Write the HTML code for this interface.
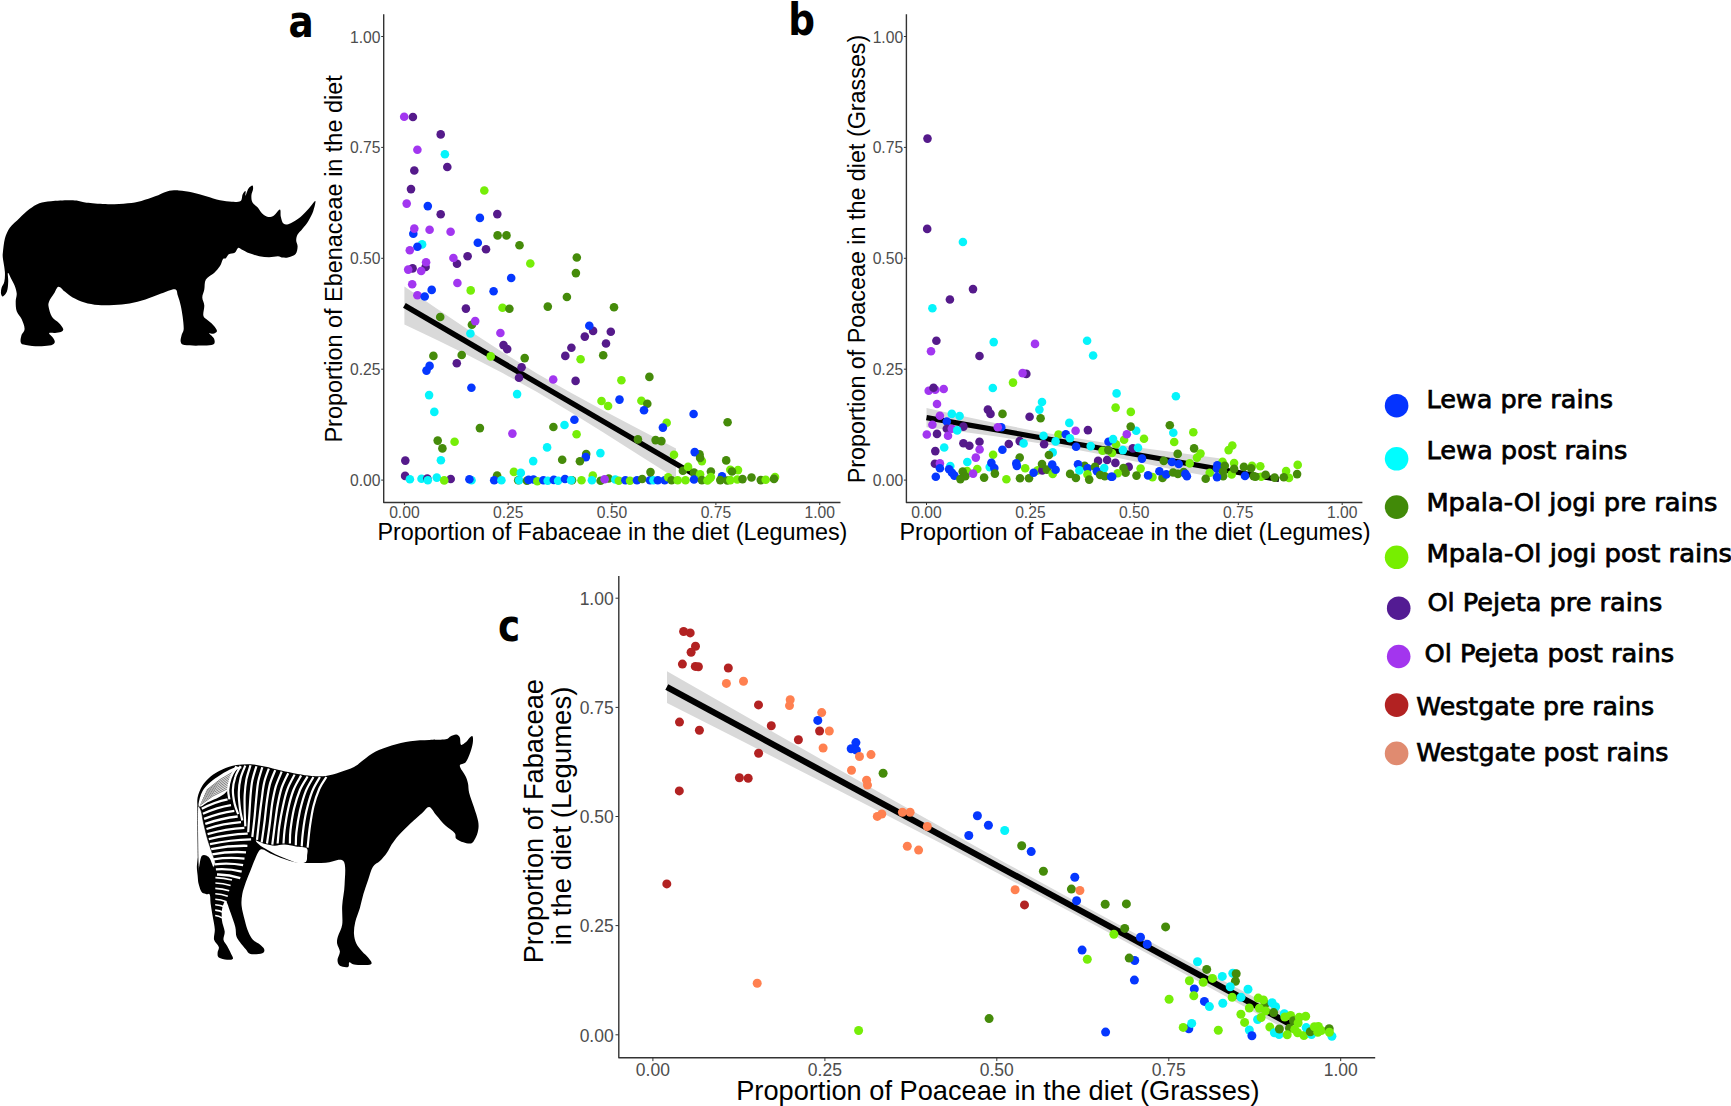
<!DOCTYPE html><html><head><meta charset="utf-8"><title>Figure</title>
<style>html,body{margin:0;padding:0;background:#fff}svg{display:block}text{font-family:"Liberation Sans",sans-serif}.tk{fill:#4d4d4d}.lg{font-family:"DejaVu Sans","Liberation Sans",sans-serif;fill:#000;stroke:#000;stroke-width:0.75px}.pl{font-family:"DejaVu Sans","Liberation Sans",sans-serif;font-weight:bold;fill:#000}</style></head><body>
<svg width="1731" height="1106" viewBox="0 0 1731 1106">
<rect width="1731" height="1106" fill="#fff"/>
<polygon points="404.4,286.4 437.0,308.8 470.0,331.1 503.0,352.5 537.0,373.4 570.0,392.3 603.0,410.2 640.0,429.8 676.0,448.6 676.0,478.5 640.0,455.8 603.0,432.2 570.0,411.7 537.0,392.1 503.0,373.3 470.0,356.3 437.0,340.0 404.4,324.4" fill="#d9d9d9"/>
<line x1="404.4" y1="305.4" x2="696.0" y2="475.5" stroke="#000" stroke-width="5.4"/>
<circle cx="404.2" cy="116.8" r="4.3" fill="#A236F0"/>
<circle cx="412.9" cy="117.0" r="4.3" fill="#551A8B"/>
<circle cx="440.7" cy="134.4" r="4.3" fill="#551A8B"/>
<circle cx="417.4" cy="149.8" r="4.3" fill="#A236F0"/>
<circle cx="444.9" cy="154.2" r="4.3" fill="#06F4FB"/>
<circle cx="447.3" cy="167.0" r="4.3" fill="#551A8B"/>
<circle cx="414.3" cy="170.5" r="4.3" fill="#551A8B"/>
<circle cx="411.0" cy="189.1" r="4.3" fill="#551A8B"/>
<circle cx="484.3" cy="190.5" r="4.3" fill="#76EE08"/>
<circle cx="406.7" cy="203.6" r="4.3" fill="#A236F0"/>
<circle cx="427.8" cy="206.1" r="4.3" fill="#0537FF"/>
<circle cx="440.7" cy="214.2" r="4.3" fill="#551A8B"/>
<circle cx="497.3" cy="214.1" r="4.3" fill="#551A8B"/>
<circle cx="479.9" cy="217.9" r="4.3" fill="#0537FF"/>
<circle cx="413.3" cy="233.7" r="4.3" fill="#0537FF"/>
<circle cx="414.3" cy="228.6" r="4.3" fill="#A236F0"/>
<circle cx="429.6" cy="229.7" r="4.3" fill="#A236F0"/>
<circle cx="450.6" cy="231.8" r="4.3" fill="#A236F0"/>
<circle cx="497.6" cy="235.4" r="4.3" fill="#458B0A"/>
<circle cx="506.5" cy="235.4" r="4.3" fill="#458B0A"/>
<circle cx="422.1" cy="244.4" r="4.3" fill="#06F4FB"/>
<circle cx="417.4" cy="246.7" r="4.3" fill="#0537FF"/>
<circle cx="409.8" cy="250.3" r="4.3" fill="#A236F0"/>
<circle cx="477.8" cy="242.7" r="4.3" fill="#0537FF"/>
<circle cx="486.0" cy="249.3" r="4.3" fill="#551A8B"/>
<circle cx="519.5" cy="245.3" r="4.3" fill="#458B0A"/>
<circle cx="467.6" cy="256.2" r="4.3" fill="#551A8B"/>
<circle cx="457.0" cy="263.7" r="4.3" fill="#551A8B"/>
<circle cx="453.4" cy="258.0" r="4.3" fill="#A236F0"/>
<circle cx="576.8" cy="257.5" r="4.3" fill="#458B0A"/>
<circle cx="530.3" cy="263.5" r="4.3" fill="#76EE08"/>
<circle cx="575.9" cy="273.1" r="4.3" fill="#458B0A"/>
<circle cx="511.2" cy="278.0" r="4.3" fill="#0537FF"/>
<circle cx="412.6" cy="268.4" r="4.3" fill="#551A8B"/>
<circle cx="408.2" cy="269.6" r="4.3" fill="#A236F0"/>
<circle cx="425.6" cy="267.0" r="4.3" fill="#551A8B"/>
<circle cx="426.1" cy="262.3" r="4.3" fill="#A236F0"/>
<circle cx="421.2" cy="271.0" r="4.3" fill="#A236F0"/>
<circle cx="412.2" cy="284.3" r="4.3" fill="#A236F0"/>
<circle cx="457.4" cy="283.0" r="4.3" fill="#A236F0"/>
<circle cx="470.7" cy="290.4" r="4.3" fill="#76EE08"/>
<circle cx="431.7" cy="289.9" r="4.3" fill="#0537FF"/>
<circle cx="493.6" cy="291.3" r="4.3" fill="#0537FF"/>
<circle cx="417.4" cy="295.3" r="4.3" fill="#A236F0"/>
<circle cx="424.7" cy="296.5" r="4.3" fill="#0537FF"/>
<circle cx="566.9" cy="297.0" r="4.3" fill="#458B0A"/>
<circle cx="547.8" cy="306.6" r="4.3" fill="#458B0A"/>
<circle cx="614.0" cy="307.3" r="4.3" fill="#458B0A"/>
<circle cx="502.5" cy="307.8" r="4.3" fill="#76EE08"/>
<circle cx="509.4" cy="308.8" r="4.3" fill="#458B0A"/>
<circle cx="465.9" cy="308.6" r="4.3" fill="#551A8B"/>
<circle cx="440.2" cy="317.0" r="4.3" fill="#458B0A"/>
<circle cx="471.9" cy="324.8" r="4.3" fill="#458B0A"/>
<circle cx="475.2" cy="321.1" r="4.3" fill="#A236F0"/>
<circle cx="470.4" cy="333.5" r="4.3" fill="#06F4FB"/>
<circle cx="500.4" cy="333.0" r="4.3" fill="#A236F0"/>
<circle cx="593.1" cy="330.9" r="4.3" fill="#551A8B"/>
<circle cx="589.3" cy="325.7" r="4.3" fill="#0537FF"/>
<circle cx="610.8" cy="331.7" r="4.3" fill="#551A8B"/>
<circle cx="584.8" cy="336.6" r="4.3" fill="#551A8B"/>
<circle cx="606.0" cy="343.5" r="4.3" fill="#551A8B"/>
<circle cx="503.5" cy="345.1" r="4.3" fill="#551A8B"/>
<circle cx="507.2" cy="349.1" r="4.3" fill="#551A8B"/>
<circle cx="571.4" cy="347.7" r="4.3" fill="#551A8B"/>
<circle cx="565.3" cy="355.9" r="4.3" fill="#551A8B"/>
<circle cx="580.6" cy="359.3" r="4.3" fill="#76EE08"/>
<circle cx="603.2" cy="355.3" r="4.3" fill="#458B0A"/>
<circle cx="433.4" cy="355.9" r="4.3" fill="#458B0A"/>
<circle cx="461.7" cy="355.0" r="4.3" fill="#458B0A"/>
<circle cx="490.7" cy="356.4" r="4.3" fill="#76EE08"/>
<circle cx="524.7" cy="358.1" r="4.3" fill="#458B0A"/>
<circle cx="456.8" cy="363.2" r="4.3" fill="#551A8B"/>
<circle cx="429.6" cy="365.9" r="4.3" fill="#0537FF"/>
<circle cx="426.5" cy="370.6" r="4.3" fill="#0537FF"/>
<circle cx="521.6" cy="367.3" r="4.3" fill="#551A8B"/>
<circle cx="519.0" cy="377.7" r="4.3" fill="#551A8B"/>
<circle cx="553.2" cy="379.5" r="4.3" fill="#A236F0"/>
<circle cx="575.6" cy="380.9" r="4.3" fill="#551A8B"/>
<circle cx="621.4" cy="380.3" r="4.3" fill="#76EE08"/>
<circle cx="649.4" cy="376.9" r="4.3" fill="#458B0A"/>
<circle cx="471.4" cy="387.8" r="4.3" fill="#0537FF"/>
<circle cx="429.1" cy="395.1" r="4.3" fill="#06F4FB"/>
<circle cx="517.1" cy="394.1" r="4.3" fill="#06F4FB"/>
<circle cx="601.5" cy="401.0" r="4.3" fill="#76EE08"/>
<circle cx="608.1" cy="406.0" r="4.3" fill="#76EE08"/>
<circle cx="619.5" cy="399.6" r="4.3" fill="#0537FF"/>
<circle cx="641.4" cy="400.7" r="4.3" fill="#76EE08"/>
<circle cx="647.3" cy="403.8" r="4.3" fill="#458B0A"/>
<circle cx="644.0" cy="410.2" r="4.3" fill="#0537FF"/>
<circle cx="434.3" cy="411.9" r="4.3" fill="#06F4FB"/>
<circle cx="574.4" cy="419.8" r="4.3" fill="#0537FF"/>
<circle cx="564.5" cy="425.0" r="4.3" fill="#06F4FB"/>
<circle cx="553.4" cy="427.0" r="4.3" fill="#458B0A"/>
<circle cx="479.9" cy="428.1" r="4.3" fill="#458B0A"/>
<circle cx="512.4" cy="433.6" r="4.3" fill="#A236F0"/>
<circle cx="576.6" cy="434.2" r="4.3" fill="#76EE08"/>
<circle cx="666.7" cy="422.7" r="4.3" fill="#76EE08"/>
<circle cx="662.9" cy="427.6" r="4.3" fill="#0537FF"/>
<circle cx="637.9" cy="439.4" r="4.3" fill="#458B0A"/>
<circle cx="655.6" cy="440.1" r="4.3" fill="#458B0A"/>
<circle cx="661.4" cy="441.1" r="4.3" fill="#458B0A"/>
<circle cx="437.7" cy="440.6" r="4.3" fill="#458B0A"/>
<circle cx="454.6" cy="441.8" r="4.3" fill="#76EE08"/>
<circle cx="442.4" cy="448.4" r="4.3" fill="#458B0A"/>
<circle cx="547.1" cy="447.4" r="4.3" fill="#06F4FB"/>
<circle cx="600.4" cy="453.1" r="4.3" fill="#06F4FB"/>
<circle cx="586.2" cy="454.1" r="4.3" fill="#458B0A"/>
<circle cx="585.8" cy="457.1" r="4.3" fill="#0537FF"/>
<circle cx="579.9" cy="461.2" r="4.3" fill="#458B0A"/>
<circle cx="562.2" cy="459.7" r="4.3" fill="#458B0A"/>
<circle cx="533.2" cy="461.1" r="4.3" fill="#06F4FB"/>
<circle cx="440.9" cy="460.2" r="4.3" fill="#06F4FB"/>
<circle cx="405.3" cy="460.6" r="4.3" fill="#551A8B"/>
<circle cx="674.0" cy="454.8" r="4.3" fill="#76EE08"/>
<circle cx="405.1" cy="475.9" r="4.3" fill="#551A8B"/>
<circle cx="409.9" cy="479.3" r="4.3" fill="#06F4FB"/>
<circle cx="421.5" cy="478.8" r="4.3" fill="#06F4FB"/>
<circle cx="427.3" cy="478.5" r="4.3" fill="#551A8B"/>
<circle cx="427.8" cy="480.2" r="4.3" fill="#06F4FB"/>
<circle cx="436.8" cy="477.6" r="4.3" fill="#06F4FB"/>
<circle cx="450.7" cy="479.0" r="4.3" fill="#551A8B"/>
<circle cx="444.2" cy="480.4" r="4.3" fill="#76EE08"/>
<circle cx="471.5" cy="480.2" r="4.3" fill="#06F4FB"/>
<circle cx="469.4" cy="479.2" r="4.3" fill="#0537FF"/>
<circle cx="497.1" cy="475.5" r="4.3" fill="#458B0A"/>
<circle cx="494.2" cy="480.2" r="4.3" fill="#0537FF"/>
<circle cx="501.4" cy="480.2" r="4.3" fill="#06F4FB"/>
<circle cx="513.9" cy="471.9" r="4.3" fill="#76EE08"/>
<circle cx="520.8" cy="472.9" r="4.3" fill="#06F4FB"/>
<circle cx="518.2" cy="480.2" r="4.3" fill="#458B0A"/>
<circle cx="519.1" cy="480.2" r="4.3" fill="#06F4FB"/>
<circle cx="526.9" cy="480.7" r="4.3" fill="#458B0A"/>
<circle cx="528.6" cy="479.9" r="4.3" fill="#0537FF"/>
<circle cx="533.5" cy="479.5" r="4.3" fill="#0537FF"/>
<circle cx="537.3" cy="481.2" r="4.3" fill="#76EE08"/>
<circle cx="543.4" cy="480.2" r="4.3" fill="#0537FF"/>
<circle cx="547.7" cy="480.7" r="4.3" fill="#06F4FB"/>
<circle cx="553.8" cy="479.9" r="4.3" fill="#0537FF"/>
<circle cx="558.1" cy="480.7" r="4.3" fill="#06F4FB"/>
<circle cx="565.0" cy="479.0" r="4.3" fill="#0537FF"/>
<circle cx="572.0" cy="480.2" r="4.3" fill="#458B0A"/>
<circle cx="571.1" cy="480.2" r="4.3" fill="#06F4FB"/>
<circle cx="581.5" cy="480.2" r="4.3" fill="#76EE08"/>
<circle cx="592.8" cy="475.5" r="4.3" fill="#76EE08"/>
<circle cx="591.9" cy="480.2" r="4.3" fill="#06F4FB"/>
<circle cx="600.6" cy="480.7" r="4.3" fill="#458B0A"/>
<circle cx="608.7" cy="478.5" r="4.3" fill="#458B0A"/>
<circle cx="604.6" cy="479.3" r="4.3" fill="#A236F0"/>
<circle cx="615.3" cy="479.5" r="4.3" fill="#06F4FB"/>
<circle cx="618.8" cy="480.7" r="4.3" fill="#76EE08"/>
<circle cx="625.4" cy="480.2" r="4.3" fill="#0537FF"/>
<circle cx="630.0" cy="480.7" r="4.3" fill="#76EE08"/>
<circle cx="637.0" cy="480.2" r="4.3" fill="#0537FF"/>
<circle cx="642.2" cy="479.0" r="4.3" fill="#458B0A"/>
<circle cx="650.0" cy="480.2" r="4.3" fill="#0537FF"/>
<circle cx="653.4" cy="480.2" r="4.3" fill="#06F4FB"/>
<circle cx="657.8" cy="480.2" r="4.3" fill="#0537FF"/>
<circle cx="664.7" cy="480.2" r="4.3" fill="#0537FF"/>
<circle cx="650.5" cy="472.1" r="4.3" fill="#458B0A"/>
<circle cx="668.2" cy="477.3" r="4.3" fill="#76EE08"/>
<circle cx="671.6" cy="480.2" r="4.3" fill="#458B0A"/>
<circle cx="677.7" cy="480.2" r="4.3" fill="#76EE08"/>
<circle cx="685.5" cy="480.2" r="4.3" fill="#76EE08"/>
<circle cx="682.9" cy="470.8" r="4.3" fill="#458B0A"/>
<circle cx="688.1" cy="466.9" r="4.3" fill="#76EE08"/>
<circle cx="693.6" cy="414.0" r="4.3" fill="#0537FF"/>
<circle cx="727.6" cy="422.3" r="4.3" fill="#458B0A"/>
<circle cx="699.5" cy="454.2" r="4.3" fill="#458B0A"/>
<circle cx="694.7" cy="452.1" r="4.3" fill="#0537FF"/>
<circle cx="701.9" cy="461.1" r="4.3" fill="#76EE08"/>
<circle cx="700.1" cy="457.9" r="4.3" fill="#458B0A"/>
<circle cx="726.2" cy="460.4" r="4.3" fill="#458B0A"/>
<circle cx="694.0" cy="472.6" r="4.3" fill="#458B0A"/>
<circle cx="700.1" cy="474.3" r="4.3" fill="#76EE08"/>
<circle cx="710.9" cy="471.5" r="4.3" fill="#458B0A"/>
<circle cx="710.9" cy="477.1" r="4.3" fill="#76EE08"/>
<circle cx="730.3" cy="469.8" r="4.3" fill="#76EE08"/>
<circle cx="738.0" cy="470.1" r="4.3" fill="#76EE08"/>
<circle cx="732.0" cy="471.5" r="4.3" fill="#458B0A"/>
<circle cx="722.0" cy="476.4" r="4.3" fill="#0537FF"/>
<circle cx="694.0" cy="479.5" r="4.3" fill="#0537FF"/>
<circle cx="701.9" cy="480.1" r="4.3" fill="#458B0A"/>
<circle cx="707.5" cy="480.5" r="4.3" fill="#76EE08"/>
<circle cx="709.5" cy="478.7" r="4.3" fill="#76EE08"/>
<circle cx="720.3" cy="480.1" r="4.3" fill="#458B0A"/>
<circle cx="727.3" cy="480.5" r="4.3" fill="#458B0A"/>
<circle cx="730.3" cy="480.1" r="4.3" fill="#76EE08"/>
<circle cx="737.3" cy="479.5" r="4.3" fill="#76EE08"/>
<circle cx="742.5" cy="479.1" r="4.3" fill="#458B0A"/>
<circle cx="751.5" cy="477.5" r="4.3" fill="#458B0A"/>
<circle cx="760.8" cy="480.1" r="4.3" fill="#458B0A"/>
<circle cx="765.7" cy="479.8" r="4.3" fill="#76EE08"/>
<circle cx="775.0" cy="477.1" r="4.3" fill="#76EE08"/>
<circle cx="774.0" cy="478.9" r="4.3" fill="#458B0A"/>
<path d="M383.7 14.3V502.5H840.5" fill="none" stroke="#333" stroke-width="1.4" stroke-linejoin="round"/>
<path d="M404.4 502.5v2.5M383.7 480.1h-2.5" stroke="#333" stroke-width="1"/>
<text class="tk" x="404.4" y="518.3" font-size="15.7" text-anchor="middle">0.00</text>
<text class="tk" x="380.5" y="486.1" font-size="15.7" text-anchor="end">0.00</text>
<path d="M508.2 502.5v2.5M383.7 369.2h-2.5" stroke="#333" stroke-width="1"/>
<text class="tk" x="508.2" y="518.3" font-size="15.7" text-anchor="middle">0.25</text>
<text class="tk" x="380.5" y="375.2" font-size="15.7" text-anchor="end">0.25</text>
<path d="M612.0 502.5v2.5M383.7 258.3h-2.5" stroke="#333" stroke-width="1"/>
<text class="tk" x="612.0" y="518.3" font-size="15.7" text-anchor="middle">0.50</text>
<text class="tk" x="380.5" y="264.3" font-size="15.7" text-anchor="end">0.50</text>
<path d="M715.9 502.5v2.5M383.7 147.4h-2.5" stroke="#333" stroke-width="1"/>
<text class="tk" x="715.9" y="518.3" font-size="15.7" text-anchor="middle">0.75</text>
<text class="tk" x="380.5" y="153.4" font-size="15.7" text-anchor="end">0.75</text>
<path d="M819.7 502.5v2.5M383.7 36.5h-2.5" stroke="#333" stroke-width="1"/>
<text class="tk" x="819.7" y="518.3" font-size="15.7" text-anchor="middle">1.00</text>
<text class="tk" x="380.5" y="42.5" font-size="15.7" text-anchor="end">1.00</text>
<polygon points="926.5,407.9 960.0,415.6 995.0,423.0 1030.0,429.9 1065.0,436.2 1100.0,441.9 1140.0,447.7 1180.0,453.1 1219.0,458.2 1219.0,478.0 1180.0,471.1 1140.0,462.5 1100.0,454.3 1065.0,447.6 1030.0,441.7 995.0,436.2 960.0,431.4 926.5,427.3" fill="#d9d9d9"/>
<line x1="926.5" y1="417.6" x2="1279.0" y2="479.5" stroke="#000" stroke-width="5.2"/>
<circle cx="927.5" cy="138.6" r="4.3" fill="#551A8B"/>
<circle cx="927.2" cy="228.9" r="4.3" fill="#551A8B"/>
<circle cx="962.9" cy="242.0" r="4.3" fill="#06F4FB"/>
<circle cx="973.0" cy="289.1" r="4.3" fill="#551A8B"/>
<circle cx="949.9" cy="299.5" r="4.3" fill="#551A8B"/>
<circle cx="932.4" cy="308.2" r="4.3" fill="#06F4FB"/>
<circle cx="936.4" cy="340.7" r="4.3" fill="#551A8B"/>
<circle cx="931.0" cy="351.3" r="4.3" fill="#A236F0"/>
<circle cx="993.7" cy="342.1" r="4.3" fill="#06F4FB"/>
<circle cx="979.5" cy="356.0" r="4.3" fill="#551A8B"/>
<circle cx="1035.0" cy="343.9" r="4.3" fill="#A236F0"/>
<circle cx="1087.1" cy="340.7" r="4.3" fill="#06F4FB"/>
<circle cx="1093.1" cy="355.5" r="4.3" fill="#06F4FB"/>
<circle cx="1026.3" cy="373.9" r="4.3" fill="#551A8B"/>
<circle cx="1022.6" cy="373.1" r="4.3" fill="#A236F0"/>
<circle cx="1013.0" cy="382.6" r="4.3" fill="#76EE08"/>
<circle cx="992.8" cy="388.0" r="4.3" fill="#06F4FB"/>
<circle cx="928.7" cy="390.7" r="4.3" fill="#A236F0"/>
<circle cx="935.3" cy="389.8" r="4.3" fill="#A236F0"/>
<circle cx="933.5" cy="387.8" r="4.3" fill="#551A8B"/>
<circle cx="943.7" cy="389.0" r="4.3" fill="#A236F0"/>
<circle cx="937.0" cy="404.0" r="4.3" fill="#A236F0"/>
<circle cx="1042.0" cy="402.0" r="4.3" fill="#06F4FB"/>
<circle cx="1116.0" cy="444.3" r="4.3" fill="#76EE08"/>
<circle cx="1112.0" cy="453.0" r="4.3" fill="#76EE08"/>
<circle cx="1039.4" cy="409.6" r="4.3" fill="#06F4FB"/>
<circle cx="987.9" cy="409.6" r="4.3" fill="#551A8B"/>
<circle cx="990.5" cy="413.9" r="4.3" fill="#551A8B"/>
<circle cx="1002.5" cy="413.9" r="4.3" fill="#458B0A"/>
<circle cx="1029.6" cy="416.8" r="4.3" fill="#551A8B"/>
<circle cx="1040.6" cy="418.3" r="4.3" fill="#458B0A"/>
<circle cx="951.8" cy="413.9" r="4.3" fill="#06F4FB"/>
<circle cx="959.6" cy="416.0" r="4.3" fill="#06F4FB"/>
<circle cx="939.9" cy="415.8" r="4.3" fill="#A236F0"/>
<circle cx="946.8" cy="421.5" r="4.3" fill="#0537FF"/>
<circle cx="932.4" cy="424.7" r="4.3" fill="#A236F0"/>
<circle cx="963.4" cy="426.6" r="4.3" fill="#551A8B"/>
<circle cx="946.8" cy="428.7" r="4.3" fill="#551A8B"/>
<circle cx="951.8" cy="428.7" r="4.3" fill="#A236F0"/>
<circle cx="957.2" cy="430.4" r="4.3" fill="#06F4FB"/>
<circle cx="926.8" cy="434.5" r="4.3" fill="#A236F0"/>
<circle cx="937.0" cy="433.9" r="4.3" fill="#551A8B"/>
<circle cx="948.0" cy="435.7" r="4.3" fill="#A236F0"/>
<circle cx="1001.2" cy="427.3" r="4.3" fill="#0537FF"/>
<circle cx="997.8" cy="427.3" r="4.3" fill="#A236F0"/>
<circle cx="1069.3" cy="422.9" r="4.3" fill="#06F4FB"/>
<circle cx="1075.6" cy="430.8" r="4.3" fill="#A236F0"/>
<circle cx="1087.9" cy="430.1" r="4.3" fill="#551A8B"/>
<circle cx="1058.5" cy="434.5" r="4.3" fill="#76EE08"/>
<circle cx="1065.8" cy="434.3" r="4.3" fill="#0537FF"/>
<circle cx="1043.5" cy="435.7" r="4.3" fill="#06F4FB"/>
<circle cx="1069.9" cy="438.2" r="4.3" fill="#06F4FB"/>
<circle cx="1055.6" cy="441.4" r="4.3" fill="#06F4FB"/>
<circle cx="1019.7" cy="441.1" r="4.3" fill="#551A8B"/>
<circle cx="1023.6" cy="443.4" r="4.3" fill="#06F4FB"/>
<circle cx="1044.1" cy="444.3" r="4.3" fill="#551A8B"/>
<circle cx="1076.1" cy="446.7" r="4.3" fill="#0537FF"/>
<circle cx="1090.7" cy="446.1" r="4.3" fill="#06F4FB"/>
<circle cx="1108.5" cy="441.8" r="4.3" fill="#0537FF"/>
<circle cx="963.4" cy="443.2" r="4.3" fill="#551A8B"/>
<circle cx="969.4" cy="445.7" r="4.3" fill="#551A8B"/>
<circle cx="979.5" cy="441.8" r="4.3" fill="#551A8B"/>
<circle cx="979.6" cy="449.5" r="4.3" fill="#A236F0"/>
<circle cx="1008.8" cy="444.0" r="4.3" fill="#551A8B"/>
<circle cx="1002.4" cy="449.8" r="4.3" fill="#0537FF"/>
<circle cx="944.2" cy="447.5" r="4.3" fill="#06F4FB"/>
<circle cx="935.3" cy="451.1" r="4.3" fill="#551A8B"/>
<circle cx="993.1" cy="454.8" r="4.3" fill="#76EE08"/>
<circle cx="975.8" cy="457.6" r="4.3" fill="#A236F0"/>
<circle cx="1052.7" cy="452.4" r="4.3" fill="#06F4FB"/>
<circle cx="1048.9" cy="455.0" r="4.3" fill="#458B0A"/>
<circle cx="1019.7" cy="457.6" r="4.3" fill="#458B0A"/>
<circle cx="967.3" cy="462.0" r="4.3" fill="#06F4FB"/>
<circle cx="934.9" cy="463.7" r="4.3" fill="#551A8B"/>
<circle cx="939.9" cy="463.4" r="4.3" fill="#A236F0"/>
<circle cx="950.3" cy="466.0" r="4.3" fill="#06F4FB"/>
<circle cx="939.9" cy="468.3" r="4.3" fill="#0537FF"/>
<circle cx="949.1" cy="469.2" r="4.3" fill="#0537FF"/>
<circle cx="952.0" cy="472.7" r="4.3" fill="#0537FF"/>
<circle cx="954.4" cy="475.6" r="4.3" fill="#0537FF"/>
<circle cx="967.1" cy="471.0" r="4.3" fill="#76EE08"/>
<circle cx="962.7" cy="471.5" r="4.3" fill="#458B0A"/>
<circle cx="965.3" cy="476.2" r="4.3" fill="#458B0A"/>
<circle cx="960.4" cy="479.1" r="4.3" fill="#458B0A"/>
<circle cx="977.3" cy="469.0" r="4.3" fill="#76EE08"/>
<circle cx="973.1" cy="473.6" r="4.3" fill="#A236F0"/>
<circle cx="984.1" cy="477.6" r="4.3" fill="#458B0A"/>
<circle cx="989.7" cy="467.1" r="4.3" fill="#06F4FB"/>
<circle cx="991.4" cy="462.9" r="4.3" fill="#0537FF"/>
<circle cx="994.3" cy="468.1" r="4.3" fill="#0537FF"/>
<circle cx="994.9" cy="473.6" r="4.3" fill="#458B0A"/>
<circle cx="1006.4" cy="479.3" r="4.3" fill="#76EE08"/>
<circle cx="1016.3" cy="463.4" r="4.3" fill="#0537FF"/>
<circle cx="1016.9" cy="466.0" r="4.3" fill="#0537FF"/>
<circle cx="1025.2" cy="468.3" r="4.3" fill="#76EE08"/>
<circle cx="1020.0" cy="478.2" r="4.3" fill="#458B0A"/>
<circle cx="1029.0" cy="478.2" r="4.3" fill="#458B0A"/>
<circle cx="1037.7" cy="470.4" r="4.3" fill="#76EE08"/>
<circle cx="1033.6" cy="472.7" r="4.3" fill="#0537FF"/>
<circle cx="1042.3" cy="470.4" r="4.3" fill="#551A8B"/>
<circle cx="1042.0" cy="464.0" r="4.3" fill="#458B0A"/>
<circle cx="1046.9" cy="469.6" r="4.3" fill="#458B0A"/>
<circle cx="1052.7" cy="473.9" r="4.3" fill="#76EE08"/>
<circle cx="1052.2" cy="464.6" r="4.3" fill="#0537FF"/>
<circle cx="1055.6" cy="469.8" r="4.3" fill="#0537FF"/>
<circle cx="935.8" cy="476.7" r="4.3" fill="#0537FF"/>
<circle cx="1070.1" cy="473.9" r="4.3" fill="#458B0A"/>
<circle cx="1075.9" cy="477.9" r="4.3" fill="#458B0A"/>
<circle cx="1084.6" cy="465.8" r="4.3" fill="#458B0A"/>
<circle cx="1078.0" cy="464.2" r="4.3" fill="#0537FF"/>
<circle cx="1079.4" cy="470.4" r="4.3" fill="#06F4FB"/>
<circle cx="1087.7" cy="468.3" r="4.3" fill="#0537FF"/>
<circle cx="1087.5" cy="474.4" r="4.3" fill="#76EE08"/>
<circle cx="1089.2" cy="479.6" r="4.3" fill="#458B0A"/>
<circle cx="1098.1" cy="460.9" r="4.3" fill="#551A8B"/>
<circle cx="1107.1" cy="460.0" r="4.3" fill="#551A8B"/>
<circle cx="1095.0" cy="466.9" r="4.3" fill="#458B0A"/>
<circle cx="1096.9" cy="471.3" r="4.3" fill="#0537FF"/>
<circle cx="1104.2" cy="468.1" r="4.3" fill="#06F4FB"/>
<circle cx="1100.2" cy="475.0" r="4.3" fill="#458B0A"/>
<circle cx="1104.8" cy="476.2" r="4.3" fill="#458B0A"/>
<circle cx="1111.2" cy="476.7" r="4.3" fill="#0537FF"/>
<circle cx="1102.5" cy="450.7" r="4.3" fill="#76EE08"/>
<circle cx="1108.3" cy="450.1" r="4.3" fill="#458B0A"/>
<circle cx="1116.6" cy="393.4" r="4.3" fill="#06F4FB"/>
<circle cx="1175.9" cy="396.3" r="4.3" fill="#06F4FB"/>
<circle cx="1115.6" cy="407.6" r="4.3" fill="#76EE08"/>
<circle cx="1130.8" cy="411.9" r="4.3" fill="#76EE08"/>
<circle cx="1136.2" cy="430.7" r="4.3" fill="#06F4FB"/>
<circle cx="1130.7" cy="426.6" r="4.3" fill="#458B0A"/>
<circle cx="1169.8" cy="425.2" r="4.3" fill="#458B0A"/>
<circle cx="1173.3" cy="432.8" r="4.3" fill="#06F4FB"/>
<circle cx="1193.3" cy="432.2" r="4.3" fill="#76EE08"/>
<circle cx="1124.1" cy="439.7" r="4.3" fill="#76EE08"/>
<circle cx="1126.8" cy="434.3" r="4.3" fill="#A236F0"/>
<circle cx="1144.0" cy="438.8" r="4.3" fill="#76EE08"/>
<circle cx="1113.1" cy="439.1" r="4.3" fill="#06F4FB"/>
<circle cx="1174.2" cy="442.0" r="4.3" fill="#76EE08"/>
<circle cx="1194.1" cy="448.4" r="4.3" fill="#458B0A"/>
<circle cx="1232.3" cy="445.5" r="4.3" fill="#76EE08"/>
<circle cx="1228.6" cy="450.1" r="4.3" fill="#76EE08"/>
<circle cx="1122.9" cy="450.1" r="4.3" fill="#06F4FB"/>
<circle cx="1132.8" cy="448.4" r="4.3" fill="#551A8B"/>
<circle cx="1138.0" cy="447.8" r="4.3" fill="#06F4FB"/>
<circle cx="1177.7" cy="453.9" r="4.3" fill="#458B0A"/>
<circle cx="1200.5" cy="453.6" r="4.3" fill="#76EE08"/>
<circle cx="1197.0" cy="457.6" r="4.3" fill="#76EE08"/>
<circle cx="1142.0" cy="458.6" r="4.3" fill="#0537FF"/>
<circle cx="1163.8" cy="460.9" r="4.3" fill="#458B0A"/>
<circle cx="1171.9" cy="462.0" r="4.3" fill="#0537FF"/>
<circle cx="1178.7" cy="464.0" r="4.3" fill="#0537FF"/>
<circle cx="1189.7" cy="463.4" r="4.3" fill="#76EE08"/>
<circle cx="1115.4" cy="462.9" r="4.3" fill="#551A8B"/>
<circle cx="1128.7" cy="466.9" r="4.3" fill="#551A8B"/>
<circle cx="1123.5" cy="468.1" r="4.3" fill="#458B0A"/>
<circle cx="1125.6" cy="472.7" r="4.3" fill="#458B0A"/>
<circle cx="1140.6" cy="468.6" r="4.3" fill="#76EE08"/>
<circle cx="1117.7" cy="473.3" r="4.3" fill="#76EE08"/>
<circle cx="1112.2" cy="476.7" r="4.3" fill="#0537FF"/>
<circle cx="1136.5" cy="475.6" r="4.3" fill="#458B0A"/>
<circle cx="1152.5" cy="477.1" r="4.3" fill="#76EE08"/>
<circle cx="1148.1" cy="475.4" r="4.3" fill="#0537FF"/>
<circle cx="1162.5" cy="477.9" r="4.3" fill="#458B0A"/>
<circle cx="1159.4" cy="471.3" r="4.3" fill="#0537FF"/>
<circle cx="1166.3" cy="474.4" r="4.3" fill="#0537FF"/>
<circle cx="1173.1" cy="472.5" r="4.3" fill="#458B0A"/>
<circle cx="1177.9" cy="473.9" r="4.3" fill="#458B0A"/>
<circle cx="1183.7" cy="472.1" r="4.3" fill="#458B0A"/>
<circle cx="1185.4" cy="473.9" r="4.3" fill="#0537FF"/>
<circle cx="1186.9" cy="476.2" r="4.3" fill="#0537FF"/>
<circle cx="1209.7" cy="472.7" r="4.3" fill="#76EE08"/>
<circle cx="1205.7" cy="478.7" r="4.3" fill="#458B0A"/>
<circle cx="1222.5" cy="461.7" r="4.3" fill="#76EE08"/>
<circle cx="1217.3" cy="465.2" r="4.3" fill="#0537FF"/>
<circle cx="1217.0" cy="468.6" r="4.3" fill="#0537FF"/>
<circle cx="1231.7" cy="474.4" r="4.3" fill="#76EE08"/>
<circle cx="1224.8" cy="465.8" r="4.3" fill="#458B0A"/>
<circle cx="1223.1" cy="471.5" r="4.3" fill="#458B0A"/>
<circle cx="1223.1" cy="476.2" r="4.3" fill="#458B0A"/>
<circle cx="1217.0" cy="477.1" r="4.3" fill="#0537FF"/>
<circle cx="1234.1" cy="463.1" r="4.3" fill="#76EE08"/>
<circle cx="1234.1" cy="468.9" r="4.3" fill="#458B0A"/>
<circle cx="1243.9" cy="466.9" r="4.3" fill="#458B0A"/>
<circle cx="1252.0" cy="465.8" r="4.3" fill="#76EE08"/>
<circle cx="1251.1" cy="468.3" r="4.3" fill="#458B0A"/>
<circle cx="1260.3" cy="466.3" r="4.3" fill="#76EE08"/>
<circle cx="1245.0" cy="475.9" r="4.3" fill="#0537FF"/>
<circle cx="1261.2" cy="476.7" r="4.3" fill="#76EE08"/>
<circle cx="1253.7" cy="476.2" r="4.3" fill="#458B0A"/>
<circle cx="1255.5" cy="476.7" r="4.3" fill="#458B0A"/>
<circle cx="1265.6" cy="474.8" r="4.3" fill="#458B0A"/>
<circle cx="1274.6" cy="477.6" r="4.3" fill="#458B0A"/>
<circle cx="1286.1" cy="471.0" r="4.3" fill="#76EE08"/>
<circle cx="1289.0" cy="477.9" r="4.3" fill="#76EE08"/>
<circle cx="1283.8" cy="477.3" r="4.3" fill="#458B0A"/>
<circle cx="1297.7" cy="464.9" r="4.3" fill="#76EE08"/>
<circle cx="1297.1" cy="474.1" r="4.3" fill="#458B0A"/>
<path d="M906.4 14.3V502.5H1362.4" fill="none" stroke="#333" stroke-width="1.4" stroke-linejoin="round"/>
<path d="M926.5 502.5v2.5M906.4 480.1h-2.5" stroke="#333" stroke-width="1"/>
<text class="tk" x="926.5" y="518.3" font-size="15.7" text-anchor="middle">0.00</text>
<text class="tk" x="903.2" y="486.1" font-size="15.7" text-anchor="end">0.00</text>
<path d="M1030.4 502.5v2.5M906.4 369.2h-2.5" stroke="#333" stroke-width="1"/>
<text class="tk" x="1030.4" y="518.3" font-size="15.7" text-anchor="middle">0.25</text>
<text class="tk" x="903.2" y="375.2" font-size="15.7" text-anchor="end">0.25</text>
<path d="M1134.3 502.5v2.5M906.4 258.3h-2.5" stroke="#333" stroke-width="1"/>
<text class="tk" x="1134.3" y="518.3" font-size="15.7" text-anchor="middle">0.50</text>
<text class="tk" x="903.2" y="264.3" font-size="15.7" text-anchor="end">0.50</text>
<path d="M1238.3 502.5v2.5M906.4 147.4h-2.5" stroke="#333" stroke-width="1"/>
<text class="tk" x="1238.3" y="518.3" font-size="15.7" text-anchor="middle">0.75</text>
<text class="tk" x="903.2" y="153.4" font-size="15.7" text-anchor="end">0.75</text>
<path d="M1342.2 502.5v2.5M906.4 36.5h-2.5" stroke="#333" stroke-width="1"/>
<text class="tk" x="1342.2" y="518.3" font-size="15.7" text-anchor="middle">1.00</text>
<text class="tk" x="903.2" y="42.5" font-size="15.7" text-anchor="end">1.00</text>
<polygon points="667.0,671.3 740.0,713.1 810.0,753.1 880.0,792.8 950.0,832.1 1004.0,862.2 1080.0,903.8 1150.0,941.6 1220.0,978.9 1292.4,1017.3 1292.4,1033.0 1220.0,993.3 1150.0,955.0 1080.0,917.0 1004.0,876.4 950.0,848.1 880.0,811.8 810.0,775.7 740.0,740.1 667.0,702.9" fill="#d9d9d9"/>
<line x1="666.8" y1="687.0" x2="1292.4" y2="1025.3" stroke="#000" stroke-width="6.2"/>
<circle cx="683.6" cy="631.5" r="4.5" fill="#B22222"/>
<circle cx="690.2" cy="632.9" r="4.5" fill="#B22222"/>
<circle cx="695.5" cy="646.2" r="4.5" fill="#B22222"/>
<circle cx="691.1" cy="652.3" r="4.5" fill="#B22222"/>
<circle cx="682.4" cy="664.1" r="4.5" fill="#B22222"/>
<circle cx="695.3" cy="666.4" r="4.5" fill="#B22222"/>
<circle cx="698.4" cy="666.7" r="4.5" fill="#B22222"/>
<circle cx="728.3" cy="668.0" r="4.5" fill="#B22222"/>
<circle cx="726.4" cy="683.4" r="4.5" fill="#FF8050"/>
<circle cx="743.5" cy="681.3" r="4.5" fill="#FF8050"/>
<circle cx="758.5" cy="704.9" r="4.5" fill="#B22222"/>
<circle cx="790.2" cy="699.7" r="4.5" fill="#FF8050"/>
<circle cx="789.5" cy="705.6" r="4.5" fill="#FF8050"/>
<circle cx="821.7" cy="712.6" r="4.5" fill="#FF8050"/>
<circle cx="817.8" cy="720.4" r="4.5" fill="#0537FF"/>
<circle cx="679.5" cy="722.1" r="4.5" fill="#B22222"/>
<circle cx="699.4" cy="730.3" r="4.5" fill="#B22222"/>
<circle cx="771.3" cy="725.8" r="4.5" fill="#B22222"/>
<circle cx="819.6" cy="731.0" r="4.5" fill="#B22222"/>
<circle cx="829.3" cy="731.0" r="4.5" fill="#FF8050"/>
<circle cx="798.4" cy="739.7" r="4.5" fill="#B22222"/>
<circle cx="823.1" cy="748.0" r="4.5" fill="#FF8050"/>
<circle cx="855.9" cy="742.6" r="4.5" fill="#0537FF"/>
<circle cx="851.2" cy="748.7" r="4.5" fill="#0537FF"/>
<circle cx="856.4" cy="750.1" r="4.5" fill="#0537FF"/>
<circle cx="859.5" cy="756.5" r="4.5" fill="#FF8050"/>
<circle cx="871.0" cy="754.6" r="4.5" fill="#FF8050"/>
<circle cx="758.6" cy="753.2" r="4.5" fill="#B22222"/>
<circle cx="851.5" cy="770.2" r="4.5" fill="#FF8050"/>
<circle cx="883.1" cy="773.2" r="4.5" fill="#458B0A"/>
<circle cx="866.6" cy="780.3" r="4.5" fill="#FF8050"/>
<circle cx="867.5" cy="785.1" r="4.5" fill="#FF8050"/>
<circle cx="739.4" cy="777.8" r="4.5" fill="#B22222"/>
<circle cx="748.2" cy="778.2" r="4.5" fill="#B22222"/>
<circle cx="679.3" cy="790.9" r="4.5" fill="#B22222"/>
<circle cx="666.8" cy="883.9" r="4.5" fill="#B22222"/>
<circle cx="757.2" cy="983.2" r="4.5" fill="#FF8050"/>
<circle cx="858.6" cy="1030.5" r="4.5" fill="#76EE08"/>
<circle cx="989.1" cy="1018.6" r="4.5" fill="#458B0A"/>
<circle cx="1105.6" cy="1032.1" r="4.5" fill="#0537FF"/>
<circle cx="877.3" cy="816.4" r="4.5" fill="#FF8050"/>
<circle cx="881.8" cy="814.0" r="4.5" fill="#FF8050"/>
<circle cx="902.4" cy="812.2" r="4.5" fill="#FF8050"/>
<circle cx="910.1" cy="812.2" r="4.5" fill="#FF8050"/>
<circle cx="927.3" cy="826.5" r="4.5" fill="#FF8050"/>
<circle cx="977.4" cy="815.7" r="4.5" fill="#0537FF"/>
<circle cx="988.4" cy="825.2" r="4.5" fill="#0537FF"/>
<circle cx="1004.7" cy="830.5" r="4.5" fill="#06F4FB"/>
<circle cx="968.8" cy="835.5" r="4.5" fill="#0537FF"/>
<circle cx="907.3" cy="846.2" r="4.5" fill="#FF8050"/>
<circle cx="918.6" cy="850.1" r="4.5" fill="#FF8050"/>
<circle cx="1021.7" cy="845.7" r="4.5" fill="#458B0A"/>
<circle cx="1031.2" cy="851.6" r="4.5" fill="#0537FF"/>
<circle cx="1043.4" cy="871.2" r="4.5" fill="#458B0A"/>
<circle cx="1074.8" cy="877.2" r="4.5" fill="#0537FF"/>
<circle cx="1071.4" cy="889.1" r="4.5" fill="#458B0A"/>
<circle cx="1079.9" cy="890.5" r="4.5" fill="#FF8050"/>
<circle cx="1015.1" cy="889.7" r="4.5" fill="#FF8050"/>
<circle cx="1076.6" cy="900.8" r="4.5" fill="#0537FF"/>
<circle cx="1024.5" cy="904.9" r="4.5" fill="#B22222"/>
<circle cx="1105.2" cy="904.2" r="4.5" fill="#458B0A"/>
<circle cx="1126.4" cy="903.9" r="4.5" fill="#458B0A"/>
<circle cx="1124.7" cy="928.4" r="4.5" fill="#458B0A"/>
<circle cx="1113.9" cy="934.3" r="4.5" fill="#76EE08"/>
<circle cx="1140.5" cy="937.2" r="4.5" fill="#0537FF"/>
<circle cx="1147.2" cy="944.2" r="4.5" fill="#0537FF"/>
<circle cx="1082.1" cy="950.1" r="4.5" fill="#0537FF"/>
<circle cx="1087.3" cy="959.3" r="4.5" fill="#76EE08"/>
<circle cx="1134.7" cy="960.5" r="4.5" fill="#0537FF"/>
<circle cx="1129.2" cy="958.1" r="4.5" fill="#458B0A"/>
<circle cx="1134.4" cy="980.1" r="4.5" fill="#0537FF"/>
<circle cx="1165.6" cy="926.9" r="4.5" fill="#458B0A"/>
<circle cx="1197.5" cy="961.7" r="4.5" fill="#06F4FB"/>
<circle cx="1206.7" cy="969.4" r="4.5" fill="#458B0A"/>
<circle cx="1232.8" cy="973.2" r="4.5" fill="#06F4FB"/>
<circle cx="1236.2" cy="973.8" r="4.5" fill="#458B0A"/>
<circle cx="1235.4" cy="981.3" r="4.5" fill="#458B0A"/>
<circle cx="1222.3" cy="976.4" r="4.5" fill="#06F4FB"/>
<circle cx="1212.5" cy="978.4" r="4.5" fill="#76EE08"/>
<circle cx="1189.4" cy="980.8" r="4.5" fill="#76EE08"/>
<circle cx="1203.2" cy="982.2" r="4.5" fill="#76EE08"/>
<circle cx="1230.2" cy="986.8" r="4.5" fill="#06F4FB"/>
<circle cx="1248.0" cy="989.2" r="4.5" fill="#06F4FB"/>
<circle cx="1194.3" cy="988.9" r="4.5" fill="#0537FF"/>
<circle cx="1193.8" cy="995.8" r="4.5" fill="#76EE08"/>
<circle cx="1169.1" cy="999.3" r="4.5" fill="#76EE08"/>
<circle cx="1204.4" cy="1001.4" r="4.5" fill="#0537FF"/>
<circle cx="1209.4" cy="1006.6" r="4.5" fill="#06F4FB"/>
<circle cx="1222.8" cy="1003.3" r="4.5" fill="#06F4FB"/>
<circle cx="1232.2" cy="997.3" r="4.5" fill="#76EE08"/>
<circle cx="1241.0" cy="997.3" r="4.5" fill="#06F4FB"/>
<circle cx="1258.2" cy="998.1" r="4.5" fill="#76EE08"/>
<circle cx="1265.2" cy="1003.9" r="4.5" fill="#458B0A"/>
<circle cx="1263.4" cy="999.9" r="4.5" fill="#76EE08"/>
<circle cx="1272.1" cy="1002.8" r="4.5" fill="#06F4FB"/>
<circle cx="1275.6" cy="1006.8" r="4.5" fill="#06F4FB"/>
<circle cx="1249.3" cy="1008.0" r="4.5" fill="#76EE08"/>
<circle cx="1259.4" cy="1008.2" r="4.5" fill="#76EE08"/>
<circle cx="1265.7" cy="1010.9" r="4.5" fill="#76EE08"/>
<circle cx="1273.6" cy="1012.6" r="4.5" fill="#458B0A"/>
<circle cx="1240.9" cy="1014.3" r="4.5" fill="#76EE08"/>
<circle cx="1257.6" cy="1019.5" r="4.5" fill="#06F4FB"/>
<circle cx="1261.1" cy="1017.5" r="4.5" fill="#76EE08"/>
<circle cx="1244.6" cy="1022.4" r="4.5" fill="#76EE08"/>
<circle cx="1284.3" cy="1013.8" r="4.5" fill="#06F4FB"/>
<circle cx="1284.8" cy="1017.0" r="4.5" fill="#76EE08"/>
<circle cx="1290.6" cy="1015.5" r="4.5" fill="#76EE08"/>
<circle cx="1293.5" cy="1020.7" r="4.5" fill="#458B0A"/>
<circle cx="1299.3" cy="1017.2" r="4.5" fill="#76EE08"/>
<circle cx="1305.7" cy="1016.3" r="4.5" fill="#76EE08"/>
<circle cx="1298.1" cy="1023.0" r="4.5" fill="#76EE08"/>
<circle cx="1269.8" cy="1027.1" r="4.5" fill="#76EE08"/>
<circle cx="1274.4" cy="1032.8" r="4.5" fill="#06F4FB"/>
<circle cx="1279.1" cy="1034.6" r="4.5" fill="#06F4FB"/>
<circle cx="1279.4" cy="1029.0" r="4.5" fill="#458B0A"/>
<circle cx="1289.5" cy="1028.2" r="4.5" fill="#458B0A"/>
<circle cx="1287.2" cy="1034.8" r="4.5" fill="#76EE08"/>
<circle cx="1294.7" cy="1029.4" r="4.5" fill="#76EE08"/>
<circle cx="1297.6" cy="1032.8" r="4.5" fill="#76EE08"/>
<circle cx="1303.9" cy="1035.5" r="4.5" fill="#76EE08"/>
<circle cx="1306.2" cy="1027.6" r="4.5" fill="#06F4FB"/>
<circle cx="1311.5" cy="1034.6" r="4.5" fill="#06F4FB"/>
<circle cx="1310.3" cy="1031.7" r="4.5" fill="#458B0A"/>
<circle cx="1314.4" cy="1026.7" r="4.5" fill="#76EE08"/>
<circle cx="1318.4" cy="1026.5" r="4.5" fill="#76EE08"/>
<circle cx="1317.8" cy="1032.3" r="4.5" fill="#76EE08"/>
<circle cx="1321.3" cy="1030.5" r="4.5" fill="#76EE08"/>
<circle cx="1329.2" cy="1028.8" r="4.5" fill="#458B0A"/>
<circle cx="1331.9" cy="1036.3" r="4.5" fill="#06F4FB"/>
<circle cx="1329.4" cy="1032.3" r="4.5" fill="#76EE08"/>
<circle cx="1188.8" cy="1028.8" r="4.5" fill="#0537FF"/>
<circle cx="1191.7" cy="1023.4" r="4.5" fill="#06F4FB"/>
<circle cx="1183.2" cy="1027.4" r="4.5" fill="#76EE08"/>
<circle cx="1218.3" cy="1030.2" r="4.5" fill="#76EE08"/>
<circle cx="1249.3" cy="1030.0" r="4.5" fill="#06F4FB"/>
<circle cx="1251.9" cy="1035.7" r="4.5" fill="#0537FF"/>
<path d="M618.8 576.0V1057.8H1375.2" fill="none" stroke="#333" stroke-width="1.4" stroke-linejoin="round"/>
<path d="M652.9 1057.8v3.3M618.8 1034.8h-3.3" stroke="#333" stroke-width="1"/>
<text class="tk" x="652.9" y="1075.7" font-size="17.5" text-anchor="middle">0.00</text>
<text class="tk" x="613.7" y="1041.5" font-size="17.5" text-anchor="end">0.00</text>
<path d="M824.9 1057.8v3.3M618.8 925.6h-3.3" stroke="#333" stroke-width="1"/>
<text class="tk" x="824.9" y="1075.7" font-size="17.5" text-anchor="middle">0.25</text>
<text class="tk" x="613.7" y="932.4" font-size="17.5" text-anchor="end">0.25</text>
<path d="M996.8 1057.8v3.3M618.8 816.5h-3.3" stroke="#333" stroke-width="1"/>
<text class="tk" x="996.8" y="1075.7" font-size="17.5" text-anchor="middle">0.50</text>
<text class="tk" x="613.7" y="823.2" font-size="17.5" text-anchor="end">0.50</text>
<path d="M1168.8 1057.8v3.3M618.8 707.4h-3.3" stroke="#333" stroke-width="1"/>
<text class="tk" x="1168.8" y="1075.7" font-size="17.5" text-anchor="middle">0.75</text>
<text class="tk" x="613.7" y="714.1" font-size="17.5" text-anchor="end">0.75</text>
<path d="M1340.7 1057.8v3.3M618.8 598.2h-3.3" stroke="#333" stroke-width="1"/>
<text class="tk" x="1340.7" y="1075.7" font-size="17.5" text-anchor="middle">1.00</text>
<text class="tk" x="613.7" y="604.9" font-size="17.5" text-anchor="end">1.00</text>
<text x="377.4" y="539.6" font-size="23.10" textLength="470.0" lengthAdjust="spacingAndGlyphs">Proportion of Fabaceae in the diet (Legumes)</text>
<text x="899.5" y="539.7" font-size="23.10" textLength="471.0" lengthAdjust="spacingAndGlyphs">Proportion of Fabaceae in the diet (Legumes)</text>
<text x="736.2" y="1100.3" font-size="26.90" textLength="523.3" lengthAdjust="spacingAndGlyphs">Proportion of Poaceae in the diet (Grasses)</text>
<text x="341.8" y="442.5" font-size="23.10" textLength="367.2" lengthAdjust="spacingAndGlyphs" transform="rotate(-90 341.8 442.5)">Proportion of Ebenaceae in the diet</text>
<text x="864.8" y="483.2" font-size="23.10" textLength="448.5" lengthAdjust="spacingAndGlyphs" transform="rotate(-90 864.8 483.2)">Proportion of Poaceae in the diet (Grasses)</text>
<text x="542.8" y="821.2" font-size="26.90" text-anchor="middle" textLength="284.2" lengthAdjust="spacingAndGlyphs" transform="rotate(-90 542.8 821.2)">Proportion of Fabaceae</text>
<text x="570.9" y="816.0" font-size="26.90" text-anchor="middle" textLength="258.7" lengthAdjust="spacingAndGlyphs" transform="rotate(-90 570.9 816.0)">in the diet (Legumes)</text>
<text class="pl" font-size="44" transform="translate(288.5 37.0) scale(0.850 1)">a</text>
<text class="pl" font-size="44" transform="translate(788.3 34.9) scale(0.850 1)">b</text>
<text class="pl" font-size="44" transform="translate(498.0 641.0) scale(0.850 1)">c</text>
<circle cx="1396.6" cy="405.7" r="11.8" fill="#0433FF"/>
<text x="1426.4" y="408.4" font-size="25.40" class="lg" textLength="186.6" lengthAdjust="spacingAndGlyphs">Lewa pre rains</text>
<circle cx="1396.6" cy="458.8" r="11.8" fill="#00FDFF"/>
<text x="1426.4" y="459.2" font-size="25.40" class="lg" textLength="201.0" lengthAdjust="spacingAndGlyphs">Lewa post rains</text>
<circle cx="1396.6" cy="507.1" r="11.8" fill="#418A08"/>
<text x="1426.4" y="510.6" font-size="25.40" class="lg" textLength="291.1" lengthAdjust="spacingAndGlyphs">Mpala-Ol jogi pre rains</text>
<circle cx="1396.6" cy="557.3" r="11.8" fill="#77EE00"/>
<text x="1426.4" y="561.6" font-size="25.40" class="lg" textLength="305.7" lengthAdjust="spacingAndGlyphs">Mpala-Ol jogi post rains</text>
<circle cx="1398.7" cy="608.2" r="11.8" fill="#531B93"/>
<text x="1427.4" y="610.9" font-size="25.40" class="lg" textLength="234.9" lengthAdjust="spacingAndGlyphs">Ol Pejeta pre rains</text>
<circle cx="1398.7" cy="656.5" r="11.8" fill="#A335EE"/>
<text x="1424.5" y="661.9" font-size="25.40" class="lg" textLength="249.7" lengthAdjust="spacingAndGlyphs">Ol Pejeta post rains</text>
<circle cx="1396.6" cy="705.1" r="11.8" fill="#B22222"/>
<text x="1416.3" y="714.7" font-size="25.40" class="lg" textLength="237.8" lengthAdjust="spacingAndGlyphs">Westgate pre rains</text>
<circle cx="1396.6" cy="753.4" r="11.8" fill="#E08B70"/>
<text x="1416.3" y="761.4" font-size="25.40" class="lg" textLength="252.2" lengthAdjust="spacingAndGlyphs">Westgate post rains</text>
<path d="M2.9 252.3 C3.3 249.0 3.8 242.7 4.9 238.6 C6.1 234.5 7.4 231.2 9.8 227.8 C12.3 224.3 16.4 221.1 19.6 217.9 C22.9 214.8 26.2 211.6 29.5 209.1 C32.7 206.7 35.7 204.5 39.3 203.2 C42.9 201.9 46.2 201.7 51.1 201.2 C56.0 200.8 64.2 200.3 68.7 200.3 C73.3 200.2 75.3 200.4 78.6 200.9 C81.8 201.3 83.5 202.3 88.4 202.8 C93.3 203.4 101.5 204.1 108.0 204.2 C114.6 204.3 122.1 203.8 127.7 203.2 C133.2 202.7 136.8 202.0 141.4 200.9 C146.0 199.7 150.9 197.9 155.2 196.3 C159.4 194.8 163.0 192.4 167.0 191.4 C170.9 190.4 174.5 190.3 178.7 190.4 C183.0 190.6 187.9 191.4 192.5 192.4 C197.1 193.4 201.7 195.0 206.2 196.3 C210.8 197.6 215.7 199.4 220.0 200.3 C224.3 201.2 228.3 201.7 231.8 201.8 C235.2 201.9 238.8 202.1 240.6 200.9 C242.4 199.6 241.8 196.0 242.6 194.4 C243.4 192.7 245.0 190.8 245.5 191.0 C246.0 191.3 245.0 196.2 245.5 195.7 C246.0 195.3 247.3 190.2 248.5 188.5 C249.6 186.8 251.7 185.4 252.4 185.5 C253.2 185.7 253.2 187.8 253.0 189.5 C252.8 191.1 251.5 193.2 251.4 195.4 C251.3 197.5 251.4 200.3 252.4 202.2 C253.4 204.2 255.7 205.3 257.3 207.1 C259.0 209.0 260.4 211.8 262.2 213.4 C264.0 215.1 266.2 216.6 268.1 217.0 C270.1 217.3 272.0 216.6 274.0 215.4 C276.0 214.1 278.8 209.2 279.9 209.5 C281.1 209.8 280.2 214.6 280.9 217.0 C281.5 219.4 282.2 222.8 283.8 223.8 C285.5 224.9 287.9 224.4 290.7 223.2 C293.5 222.1 297.6 219.3 300.5 217.0 C303.5 214.6 305.9 211.8 308.4 209.1 C310.8 206.4 314.4 200.5 315.3 200.9 C316.1 201.2 314.4 207.7 313.3 211.1 C312.2 214.4 310.2 217.9 308.4 220.9 C306.6 223.8 304.3 226.5 302.5 228.7 C300.7 231.0 298.6 232.7 297.6 234.6 C296.5 236.6 296.2 238.6 296.2 240.5 C296.2 242.5 297.7 244.2 297.6 246.4 C297.5 248.7 297.1 252.1 295.6 253.9 C294.1 255.7 290.9 256.6 288.7 257.2 C286.6 257.9 284.7 257.8 282.9 257.6 C281.1 257.5 280.2 256.3 277.9 256.2 C275.6 256.2 272.2 257.2 269.1 257.2 C266.0 257.2 262.6 256.9 259.3 256.2 C256.0 255.6 252.4 254.4 249.5 253.3 C246.5 252.2 243.5 250.3 241.6 249.4 C239.7 248.5 239.2 247.4 238.1 248.0 C236.9 248.6 236.3 251.7 234.7 252.7 C233.2 253.8 230.3 253.4 228.8 254.3 C227.4 255.2 226.9 257.4 225.9 258.2 C224.9 259.0 223.9 257.9 222.9 259.2 C222.0 260.5 221.5 263.8 220.0 266.1 C218.5 268.4 216.5 270.7 214.1 272.9 C211.7 275.2 207.5 276.6 205.9 279.4 C204.2 282.2 204.9 286.6 204.3 289.6 C203.7 292.7 202.3 294.9 202.3 297.5 C202.3 300.1 204.1 302.4 204.3 305.4 C204.4 308.3 203.0 312.9 203.3 315.2 C203.6 317.5 204.6 317.5 206.2 319.1 C207.9 320.7 211.3 323.0 213.1 325.0 C214.9 327.0 217.0 329.4 217.0 330.9 C217.0 332.4 214.4 333.4 213.1 333.8 C211.8 334.2 209.0 332.4 209.2 333.2 C209.4 334.1 213.4 336.8 214.1 338.7 C214.8 340.6 215.4 343.5 213.1 344.6 C210.8 345.8 205.1 345.6 200.4 345.6 C195.6 345.7 187.9 345.7 184.6 345.0 C181.4 344.4 181.2 343.4 180.7 341.7 C180.2 340.0 181.2 336.9 181.7 334.8 C182.2 332.7 183.5 331.9 183.7 328.9 C183.8 326.0 183.2 321.1 182.7 317.1 C182.2 313.2 181.5 309.0 180.7 305.4 C179.9 301.8 178.7 298.2 177.8 295.5 C176.8 292.8 177.6 289.6 174.8 289.2 C172.0 288.9 166.0 291.9 161.1 293.6 C156.2 295.3 150.6 297.8 145.4 299.5 C140.1 301.1 134.9 302.5 129.6 303.4 C124.4 304.3 119.2 304.7 113.9 305.0 C108.7 305.2 103.1 305.4 98.2 305.0 C93.3 304.5 88.7 303.7 84.5 302.4 C80.2 301.2 76.0 299.3 72.7 297.5 C69.4 295.7 67.2 293.4 64.8 291.6 C62.5 289.8 60.3 286.4 58.5 286.7 C56.7 287.0 55.6 291.1 54.0 293.6 C52.4 296.0 50.0 299.1 49.1 301.4 C48.2 303.7 48.2 304.7 48.7 307.3 C49.2 309.9 50.4 314.5 52.1 317.1 C53.8 319.8 57.1 321.1 58.9 323.0 C60.8 325.0 62.9 327.5 63.2 328.9 C63.6 330.4 62.3 331.2 60.9 331.9 C59.5 332.5 57.0 332.6 55.0 332.9 C53.0 333.1 49.4 332.4 49.1 333.2 C48.8 334.1 52.1 336.2 53.0 337.8 C54.0 339.3 55.3 341.4 54.6 342.7 C54.0 344.0 52.3 345.0 49.1 345.6 C45.9 346.2 39.6 346.4 35.4 346.2 C31.1 346.0 26.0 345.4 23.6 344.6 C21.1 343.9 21.0 343.3 20.6 341.7 C20.3 340.1 21.0 336.9 21.6 334.8 C22.3 332.7 24.6 331.5 24.6 328.9 C24.6 326.3 22.9 322.1 21.6 319.1 C20.3 316.2 17.7 314.2 16.7 311.2 C15.7 308.3 15.7 304.4 15.7 301.4 C15.7 298.5 16.9 296.2 16.7 293.6 C16.5 291.0 15.7 288.3 14.7 285.7 C13.7 283.1 11.9 280.0 10.8 277.9 C9.7 275.7 8.3 272.3 7.9 272.9 C7.4 273.6 8.4 278.7 8.2 281.8 C8.1 284.9 7.8 289.1 6.9 291.6 C6.0 294.1 3.9 296.2 2.9 296.5 C2.0 296.8 1.2 295.0 1.0 293.6 C0.8 292.1 1.0 289.6 1.6 287.7 C2.1 285.7 3.8 284.4 4.3 281.8 C4.9 279.2 5.1 275.9 4.9 272.0 C4.7 268.0 3.3 261.5 2.9 258.2 C2.6 254.9 2.6 255.6 2.9 252.3Z" fill="#000"/>
<path d="M197.6 797.6 C198.4 793.7 200.2 789.4 202.3 785.8 C204.5 782.3 207.2 779.2 210.6 776.4 C213.9 773.7 218.0 771.3 222.3 769.4 C226.6 767.5 231.7 766.0 236.4 765.1 C241.1 764.3 245.8 764.0 250.5 764.2 C255.2 764.4 259.6 765.5 264.6 766.6 C269.7 767.6 275.6 769.3 281.1 770.6 C286.6 771.8 292.5 773.2 297.6 774.1 C302.7 775.0 307.0 775.6 311.7 776.0 C316.4 776.3 321.1 776.6 325.8 776.0 C330.5 775.3 335.2 773.7 339.9 772.2 C344.6 770.7 350.1 769.1 354.0 767.0 C357.9 765.0 359.9 762.5 363.4 760.0 C366.9 757.4 370.5 754.2 375.2 751.7 C379.9 749.3 385.7 747.2 391.6 745.4 C397.5 743.6 404.2 742.1 410.4 741.2 C416.7 740.3 423.4 740.3 429.2 740.0 C435.1 739.7 442.2 739.9 445.7 739.3 C449.2 738.7 448.6 737.2 450.4 736.5 C452.2 735.7 454.7 734.4 456.3 734.6 C457.8 734.8 459.0 735.9 459.8 737.6 C460.6 739.3 460.0 743.9 461.0 744.7 C462.0 745.5 464.1 743.6 465.7 742.3 C467.2 741.0 469.2 737.9 470.4 736.9 C471.6 735.9 472.3 735.4 472.7 736.5 C473.1 737.6 473.2 740.6 472.7 743.5 C472.2 746.5 470.9 751.0 469.7 754.1 C468.5 757.2 467.3 760.4 465.7 762.3 C464.0 764.3 459.8 763.5 459.8 765.8 C459.8 768.2 464.3 773.5 465.7 776.4 C467.1 779.4 467.4 780.7 468.0 783.5 C468.6 786.2 468.2 789.0 469.2 792.9 C470.2 796.8 472.4 802.3 473.9 807.0 C475.4 811.7 477.4 817.2 478.1 821.1 C478.8 825.0 478.7 827.6 478.1 830.5 C477.6 833.4 476.3 836.6 475.1 838.7 C473.9 840.9 473.0 842.9 471.1 843.4 C469.1 844.0 465.8 843.1 463.3 842.3 C460.9 841.5 457.7 840.3 456.3 838.7 C454.8 837.2 456.4 835.0 454.6 832.9 C452.9 830.7 448.8 828.7 445.7 825.8 C442.6 822.9 439.0 818.4 436.3 815.2 C433.5 812.1 431.6 807.4 429.2 807.0 C426.9 806.6 425.3 810.1 422.2 812.9 C419.0 815.6 414.3 819.7 410.4 823.5 C406.5 827.2 401.8 831.7 398.7 835.2 C395.5 838.7 393.6 841.7 391.6 844.6 C389.7 847.6 388.9 850.1 386.9 852.8 C385.0 855.6 382.2 858.7 379.9 861.1 C377.5 863.4 374.8 863.8 372.8 867.0 C370.8 870.1 369.7 875.4 368.1 879.9 C366.5 884.4 364.8 889.3 363.4 894.0 C362.0 898.7 361.2 903.4 359.9 908.1 C358.5 912.8 356.2 917.9 355.2 922.2 C354.2 926.5 353.8 930.4 354.0 934.0 C354.2 937.5 355.0 940.4 356.3 943.4 C357.7 946.3 360.3 949.2 362.2 951.6 C364.2 954.0 366.5 955.5 368.1 957.5 C369.7 959.4 372.0 962.1 371.6 963.4 C371.2 964.6 368.7 964.8 365.8 965.0 C362.8 965.2 356.7 965.0 354.0 964.5 C351.3 964.1 350.3 961.8 349.3 962.2 C348.3 962.6 349.7 966.3 348.1 966.9 C346.5 967.5 341.7 966.9 339.9 965.7 C338.1 964.5 337.5 962.2 337.5 959.8 C337.5 957.5 340.0 954.3 339.9 951.6 C339.8 948.9 337.4 945.9 337.1 943.4 C336.8 940.8 337.1 939.5 338.0 936.3 C338.9 933.2 341.5 929.7 342.2 924.6 C342.9 919.5 341.8 912.4 342.2 905.8 C342.6 899.1 344.4 892.0 344.6 884.6 C344.8 877.1 346.5 864.7 343.4 861.1 C340.3 857.4 331.9 862.4 325.8 862.7 C319.7 863.0 312.1 863.0 307.0 863.0 C301.9 862.9 299.1 863.0 295.2 862.3 C291.3 861.5 287.4 860.1 283.5 858.7 C279.5 857.4 275.4 855.6 271.7 854.0 C268.0 852.5 263.9 848.5 261.1 849.3 C258.4 850.1 257.0 855.2 255.2 858.7 C253.5 862.3 252.1 866.6 250.5 870.5 C249.0 874.4 247.2 878.3 245.8 882.2 C244.5 886.2 243.0 890.1 242.3 894.0 C241.6 897.9 241.2 901.4 241.6 905.8 C242.0 910.1 243.6 915.5 244.7 919.9 C245.8 924.2 246.8 928.3 248.2 931.6 C249.6 934.9 250.9 937.7 252.9 939.8 C254.8 942.0 258.1 943.0 259.9 944.5 C261.8 946.1 263.8 947.8 264.2 949.2 C264.6 950.7 264.6 952.5 262.3 953.2 C260.0 954.0 253.3 954.6 250.5 954.0 C247.8 953.3 247.6 951.2 245.8 949.2 C244.1 947.3 241.5 944.4 240.0 942.2 C238.4 940.0 237.2 938.9 236.4 936.3 C235.6 933.8 236.2 930.8 235.3 926.9 C234.3 923.0 232.1 917.1 230.6 912.8 C229.0 908.5 227.2 901.8 225.8 901.0 C224.5 900.3 223.0 905.0 222.3 908.1 C221.7 911.2 221.5 915.9 221.9 919.9 C222.2 923.8 224.4 928.3 224.7 931.6 C224.9 934.9 223.1 937.5 223.5 939.8 C223.9 942.2 225.8 943.6 227.0 945.7 C228.2 947.9 229.6 950.6 230.6 952.8 C231.5 954.9 233.5 957.5 232.9 958.7 C232.3 959.8 229.4 960.0 227.0 959.8 C224.7 959.6 220.4 958.7 218.8 957.5 C217.2 956.3 217.6 954.5 217.6 952.8 C217.6 951.0 219.4 949.1 218.8 946.9 C218.2 944.7 214.8 942.8 214.1 939.8 C213.4 936.9 215.0 933.0 214.8 929.3 C214.6 925.5 213.6 921.8 212.9 917.5 C212.2 913.2 211.2 907.3 210.6 903.4 C210.0 899.5 210.8 895.8 209.4 894.0 C208.0 892.2 204.1 894.4 202.3 892.8 C200.6 891.3 199.6 887.5 198.8 884.6 C198.0 881.7 197.9 878.3 197.6 875.2 C197.3 872.0 196.7 869.7 196.9 865.8 C197.1 861.9 198.3 856.4 198.8 851.7 C199.3 847.0 200.0 842.3 200.0 837.6 C200.0 832.9 199.2 828.2 198.8 823.5 C198.4 818.8 197.8 813.7 197.6 809.3 C197.4 805.0 196.9 801.5 197.6 797.6Z" fill="#000"/>
<path d="M255.8 840.5 C256.6 840.2 262.1 843.2 265.2 844.1 C268.4 844.9 271.5 845.7 274.6 845.8 C277.8 845.9 280.5 844.5 284.1 844.6 C287.6 844.7 292.0 845.8 295.8 846.4 C299.6 847.0 304.7 846.6 306.6 848.2 C308.5 849.7 307.2 853.5 307.1 855.8 C307.0 858.1 307.3 860.7 305.8 861.9 C304.3 863.1 300.8 863.4 298.2 863.1 C295.5 862.8 293.3 861.5 289.9 860.3 C286.6 859.0 281.9 857.2 278.2 855.5 C274.5 853.7 270.5 851.5 267.6 849.9 C264.7 848.3 262.5 847.4 260.5 845.8 C258.6 844.2 255.1 840.8 255.8 840.5Z" fill="#fff"/>
<path d="M198.5 805.3 C198.4 803.1 200.1 796.5 201.5 793.3 C202.9 790.0 204.6 788.1 206.8 785.6 C209.1 783.2 211.7 781.0 215.0 778.6 C218.4 776.2 223.0 773.2 226.7 771.3 C230.3 769.3 234.5 767.4 237.0 766.8 C239.5 766.2 241.8 767.3 241.7 767.9 C241.6 768.4 238.3 768.2 236.4 770.0 C234.6 771.8 232.0 775.5 230.6 778.8 C229.1 782.1 229.7 786.9 227.9 790.0 C226.0 793.0 222.8 795.0 219.4 797.0 C216.0 799.1 210.6 800.8 207.6 802.3 C204.7 803.8 203.3 805.7 201.8 806.2 C200.2 806.7 198.5 807.4 198.5 805.3Z" fill="#fff"/>
<path d="M199.9 805.3Q212.0 795.1 227.4 788.8" stroke="#000" stroke-width="0.5" fill="none"/>
<path d="M200.7 803.4Q212.9 793.1 228.3 786.6" stroke="#000" stroke-width="0.5" fill="none"/>
<path d="M201.5 801.5Q213.7 791.0 229.3 784.3" stroke="#000" stroke-width="0.5" fill="none"/>
<path d="M202.3 799.6Q214.6 789.0 230.2 782.1" stroke="#000" stroke-width="0.5" fill="none"/>
<path d="M203.2 797.7Q215.5 786.9 231.1 779.9" stroke="#000" stroke-width="0.5" fill="none"/>
<path d="M204.0 795.8Q216.4 784.9 232.1 777.6" stroke="#000" stroke-width="0.5" fill="none"/>
<path d="M204.8 794.0Q217.3 782.8 233.0 775.4" stroke="#000" stroke-width="0.5" fill="none"/>
<path d="M205.6 792.1Q218.2 780.7 234.0 773.2" stroke="#000" stroke-width="0.5" fill="none"/>
<path d="M206.5 790.2Q219.0 778.7 234.9 770.9" stroke="#000" stroke-width="0.5" fill="none"/>
<path d="M198.0 806.4 C198.6 804.9 200.2 808.4 201.2 811.1 C202.1 813.9 202.4 818.2 203.5 822.9 C204.6 827.6 206.2 834.3 207.6 839.3 C209.1 844.4 211.1 849.5 212.3 853.5 C213.6 857.4 215.3 860.5 215.3 862.9 C215.3 865.2 213.6 867.6 212.3 867.6 C211.1 867.6 209.2 862.9 207.6 862.9 C206.1 862.9 204.2 865.6 202.9 867.6 C201.7 869.5 200.7 874.6 200.0 874.6 C199.2 874.6 198.8 872.7 198.5 867.6 C198.1 862.5 197.9 851.9 197.8 844.1 C197.6 836.2 197.5 826.8 197.5 820.5 C197.6 814.3 197.4 808.0 198.0 806.4Z" fill="#fff" stroke="#000" stroke-width="0.6"/>
<path d="M201.9 855.7 C200.4 857.3 199.9 863.1 199.2 866.5 C198.6 869.9 198.0 872.8 198.1 876.3 C198.3 879.7 199.4 884.4 200.3 887.1 C201.2 889.8 202.1 891.5 203.6 892.5 C205.0 893.6 207.6 895.4 209.0 893.6 C210.3 891.8 210.8 885.1 211.7 881.7 C212.6 878.3 214.3 875.9 214.4 873.0 C214.5 870.1 213.2 867.1 212.2 864.3 C211.2 861.6 210.2 858.2 208.4 856.7 C206.7 855.3 203.5 854.0 201.9 855.7Z" fill="#000"/>
<path d="M326.4 777.0 C325.2 779.0 321.5 783.9 319.3 788.8 C317.2 793.7 315.0 800.2 313.4 806.4 C311.9 812.7 310.9 819.6 309.9 826.4 C308.9 833.3 308.0 844.1 307.6 847.6" stroke="#fff" stroke-width="2.2" fill="none" stroke-linecap="butt"/>
<path d="M319.9 777.0 C318.6 779.4 314.5 785.5 312.3 791.1 C310.0 796.8 308.0 804.3 306.4 811.1 C304.8 818.0 303.6 826.4 302.9 832.3 C302.1 838.2 301.9 844.1 301.7 846.4" stroke="#fff" stroke-width="2.2" fill="none" stroke-linecap="butt"/>
<path d="M313.4 777.0 C312.2 779.4 308.1 785.5 305.8 791.1 C303.5 796.8 301.5 804.3 299.9 811.1 C298.4 818.0 297.1 826.6 296.4 832.3 C295.7 838.0 295.9 843.1 295.8 845.2" stroke="#fff" stroke-width="2.2" fill="none" stroke-linecap="butt"/>
<path d="M307.6 776.5 C306.3 778.7 302.2 784.6 299.9 790.0 C297.7 795.4 295.6 802.1 294.0 808.8 C292.5 815.4 291.2 824.2 290.5 829.9 C289.8 835.7 290.0 841.2 289.9 843.5" stroke="#fff" stroke-width="2.2" fill="none" stroke-linecap="butt"/>
<path d="M301.1 775.6 C299.8 778.0 295.6 784.4 293.5 790.0 C291.3 795.5 289.6 802.1 288.2 808.8 C286.7 815.4 285.4 824.2 284.6 829.9 C283.9 835.7 283.7 841.2 283.5 843.5" stroke="#fff" stroke-width="2.2" fill="none" stroke-linecap="butt"/>
<path d="M294.6 774.6 C293.5 776.9 289.5 783.5 287.6 788.8 C285.6 794.1 284.2 800.2 282.9 806.4 C281.5 812.7 280.2 820.2 279.3 826.4 C278.5 832.6 277.9 840.6 277.6 843.5" stroke="#fff" stroke-width="2.2" fill="none" stroke-linecap="butt"/>
<path d="M288.2 773.2 C287.1 775.6 283.5 782.3 281.7 787.6 C279.9 793.0 278.8 798.8 277.6 805.3 C276.4 811.7 275.5 819.9 274.6 826.4 C273.8 833.0 272.7 841.6 272.3 844.6" stroke="#fff" stroke-width="2.2" fill="none" stroke-linecap="butt"/>
<path d="M281.7 771.7 C280.7 774.2 277.4 781.3 275.8 786.4 C274.3 791.6 273.3 796.8 272.3 802.9 C271.3 809.0 270.8 816.1 269.9 822.9 C269.1 829.6 267.5 840.0 267.0 843.5" stroke="#fff" stroke-width="2.2" fill="none" stroke-linecap="butt"/>
<path d="M275.2 770.2 C274.4 772.5 271.3 779.0 269.9 784.1 C268.6 789.1 267.9 794.5 267.0 800.6 C266.1 806.6 265.5 813.6 264.7 820.5 C263.8 827.5 262.2 838.7 261.7 842.3" stroke="#fff" stroke-width="2.2" fill="none" stroke-linecap="butt"/>
<path d="M268.8 768.6 C268.0 771.0 265.2 777.8 264.1 782.9 C262.9 788.1 262.5 793.5 261.7 799.4 C260.9 805.3 260.1 811.4 259.4 818.2 C258.6 824.9 257.4 836.3 257.0 839.9" stroke="#fff" stroke-width="2.2" fill="none" stroke-linecap="butt"/>
<path d="M262.3 767.3 C261.6 769.7 259.2 776.8 258.2 781.7 C257.2 786.7 257.0 791.3 256.4 797.0 C255.8 802.7 255.3 809.2 254.7 815.8 C254.0 822.5 252.7 833.5 252.3 837.0" stroke="#fff" stroke-width="2.2" fill="none" stroke-linecap="butt"/>
<path d="M256.4 766.2 C255.7 768.6 253.3 775.6 252.3 780.6 C251.3 785.5 251.0 790.4 250.5 795.8 C250.1 801.3 249.8 807.4 249.4 813.5 C249.0 819.6 248.4 829.2 248.2 832.3" stroke="#fff" stroke-width="2.2" fill="none" stroke-linecap="butt"/>
<path d="M250.5 765.3 C249.9 767.6 247.4 774.5 246.4 779.4 C245.5 784.3 245.0 789.4 244.7 794.7 C244.4 800.0 244.6 805.8 244.7 811.1 C244.8 816.4 245.2 823.9 245.3 826.4" stroke="#fff" stroke-width="2.2" fill="none" stroke-linecap="butt"/>
<path d="M245.3 765.6 C244.5 767.7 241.6 773.8 240.6 778.2 C239.5 782.7 238.9 787.2 238.8 792.3 C238.7 797.4 239.4 804.1 240.0 808.8 C240.6 813.5 241.9 818.6 242.3 820.5" stroke="#fff" stroke-width="2.2" fill="none" stroke-linecap="butt"/>
<path d="M240.6 766.0 C239.7 767.8 236.5 773.0 235.3 777.0 C234.0 781.0 233.0 785.5 232.9 790.0 C232.8 794.5 233.8 800.1 234.7 804.1 C235.6 808.1 237.6 812.4 238.2 814.1" stroke="#fff" stroke-width="2.2" fill="none" stroke-linecap="butt"/>
<path d="M236.4 766.2 C235.5 768.2 231.9 774.3 230.6 778.2 C229.2 782.2 228.4 786.4 228.2 790.0 C228.0 793.5 229.2 797.8 229.4 799.4" stroke="#fff" stroke-width="2.2" fill="none" stroke-linecap="butt"/>
<path d="M201.8 808.8Q214.7 802.0 227.6 799.4" stroke="#fff" stroke-width="2.3" fill="none"/>
<path d="M202.9 813.8Q217.0 807.3 231.0 805.1" stroke="#fff" stroke-width="2.3" fill="none"/>
<path d="M204.1 818.9Q219.2 812.7 234.3 810.8" stroke="#fff" stroke-width="2.3" fill="none"/>
<path d="M205.3 823.9Q221.5 818.1 237.7 816.5" stroke="#fff" stroke-width="2.3" fill="none"/>
<path d="M206.5 829.0Q223.7 823.5 241.0 822.2" stroke="#fff" stroke-width="2.3" fill="none"/>
<path d="M207.6 834.1Q226.0 828.9 244.4 827.9" stroke="#fff" stroke-width="2.3" fill="none"/>
<path d="M208.8 839.1Q228.3 834.2 247.7 833.6" stroke="#fff" stroke-width="2.3" fill="none"/>
<path d="M210.0 844.2Q230.5 839.6 251.1 839.3" stroke="#fff" stroke-width="2.3" fill="none"/>
<path d="M211.2 849.2Q229.3 845.4 247.4 845.8" stroke="#fff" stroke-width="2.3" fill="none"/>
<path d="M212.3 854.3Q229.1 851.2 246.0 852.3" stroke="#fff" stroke-width="2.3" fill="none"/>
<path d="M213.5 859.3Q229.0 856.9 244.5 858.7" stroke="#fff" stroke-width="2.3" fill="none"/>
<path d="M214.7 864.4Q228.9 862.7 243.1 865.2" stroke="#fff" stroke-width="2.3" fill="none"/>
<path d="M215.9 869.4Q228.8 868.4 241.7 871.7" stroke="#fff" stroke-width="2.3" fill="none"/>
<path d="M217.0 874.5Q228.7 874.2 240.3 878.1" stroke="#fff" stroke-width="2.3" fill="none"/>
<path d="M215.4 877.6Q223.7 877.8 232.0 880.0" stroke="#fff" stroke-width="1.6" fill="none"/>
<path d="M215.4 883.0Q223.0 883.2 230.6 885.4" stroke="#fff" stroke-width="1.6" fill="none"/>
<path d="M215.3 888.4Q222.3 888.6 229.2 890.8" stroke="#fff" stroke-width="1.6" fill="none"/>
<path d="M215.3 893.8Q221.6 894.1 227.8 896.2" stroke="#fff" stroke-width="1.6" fill="none"/>
<path d="M215.3 899.3Q220.9 899.5 226.5 901.7" stroke="#fff" stroke-width="1.6" fill="none"/>
<path d="M215.2 904.7Q220.2 904.9 225.1 907.1" stroke="#fff" stroke-width="1.6" fill="none"/>
<path d="M215.2 910.1Q219.5 910.3 223.7 912.5" stroke="#fff" stroke-width="1.6" fill="none"/>
<path d="M215.2 915.5Q218.7 915.8 222.3 917.9" stroke="#fff" stroke-width="1.6" fill="none"/>
</svg></body></html>
